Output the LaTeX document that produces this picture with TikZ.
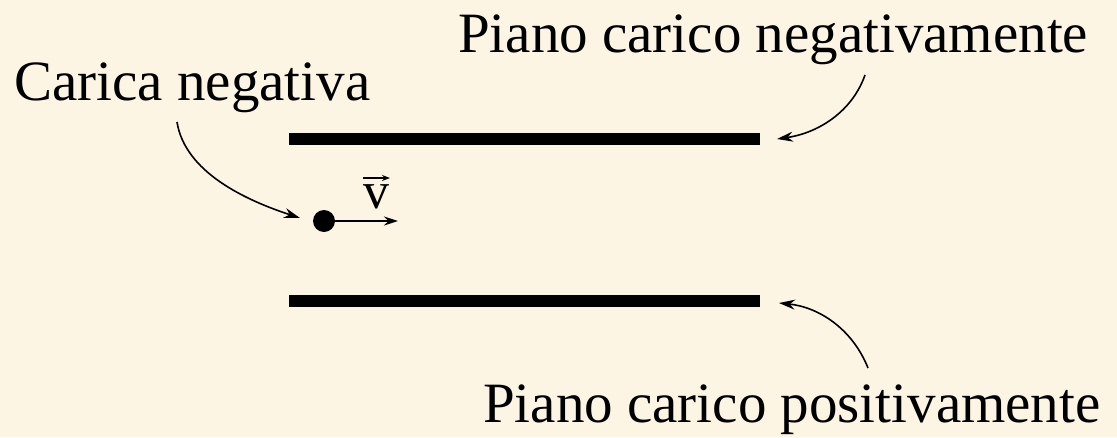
\documentclass[tikz,border=0pt]{standalone}
\usepackage{fontspec}
\setmainfont{Liberation Serif}
\usetikzlibrary{arrows.meta}
\definecolor{bg}{RGB}{253,245,228}
\tikzset{
  lbl/.style={inner sep=0pt, anchor=base west, font=\fontsize{57}{66}\selectfont},
  plate/.style={line width=12pt},
  pointer/.style={line width=1.6pt, -{Stealth[length=16pt,width=10pt]}},
  vel/.style={line width=1.8pt, -{Stealth[length=14pt,width=9pt]}},
  vecarrow/.style={line width=1.6pt, -{Stealth[length=8pt,width=6pt]}}
}
\begin{document}
\begin{tikzpicture}[x=1pt,y=-1pt]
\fill[bg] (0,0) rectangle (1117,437);
\useasboundingbox (0,0) rectangle (1117,437);
% labels
\node[lbl] (cn) at (14,100) {Carica negativa};
\node[lbl] (pn) at (458,52) {Piano carico negativamente};
\node[lbl] (pp) at (483,422) {Piano carico positivamente};
% plates
\coordinate (t1) at (289,139); \coordinate (t2) at (760,139);
\coordinate (b1) at (289,301); \coordinate (b2) at (760,301);
\draw[plate] (t1) -- (t2);
\draw[plate] (b1) -- (b2);
% charge and velocity
\node[circle, fill=black, inner sep=0pt, minimum size=22pt] (q) at (324,221) {};
\coordinate (vend) at (398,221);
\draw[vel] (q.east) -- (vend);
\node[inner sep=0pt, anchor=base, font=\fontsize{52}{60}\selectfont] (vl) at (376,208) {v};
\coordinate (va) at (363,178); \coordinate (vb) at (390,178);
\draw[vecarrow] (va) -- (vb);
% pointer arrows
\coordinate (a1s) at (177,122); \coordinate (a1e) at (300,218);
\coordinate (a2s) at (865,75);  \coordinate (a2e) at (777,139);
\coordinate (a3s) at (868,368); \coordinate (a3e) at (779,303);
\draw[pointer] (a1s) .. controls (185,172) and (245,200) .. (a1e);
\draw[pointer] (a2s) .. controls (852,112) and (818,133) .. (a2e);
\draw[pointer] (a3s) .. controls (852,328) and (818,307) .. (a3e);
\end{tikzpicture}
\end{document}
